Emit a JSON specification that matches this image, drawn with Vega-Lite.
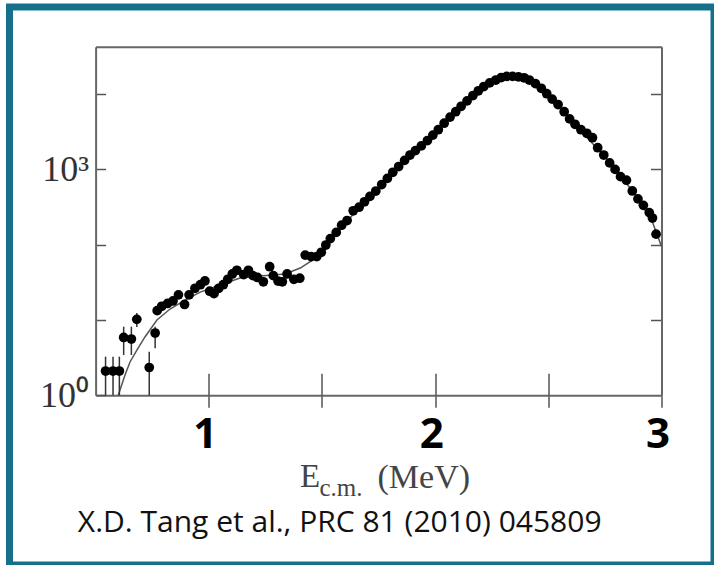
{
  "$schema": "https://vega.github.io/schema/vega-lite/v6.json",
  "width": 704.5,
  "height": 558,
  "autosize": {"type": "none"},
  "padding": {"left": 9.5, "top": 7, "right": 0, "bottom": 0},
  "background": "white",
  "config": {
    "view": {"stroke": "#15708c", "strokeWidth": 7, "fill": "white"},
    "axis": {"grid": false}
  },
  "datasets": {
    "points": [
      {"E": 0.544, "Y": 2.10}, {"E": 0.577, "Y": 2.10}, {"E": 0.605, "Y": 2.10},
      {"E": 0.624, "Y": 5.86}, {"E": 0.658, "Y": 5.59}, {"E": 0.682, "Y": 10.2},
      {"E": 0.737, "Y": 2.34}, {"E": 0.763, "Y": 6.72}, {"E": 0.772, "Y": 13.3},
      {"E": 0.792, "Y": 15.2}, {"E": 0.818, "Y": 16.6}, {"E": 0.842, "Y": 17.9},
      {"E": 0.866, "Y": 21.6}, {"E": 0.893, "Y": 16.1}, {"E": 0.913, "Y": 21.6},
      {"E": 0.939, "Y": 26.4}, {"E": 0.963, "Y": 29.4}, {"E": 0.983, "Y": 33.0},
      {"E": 1.004, "Y": 24.1}, {"E": 1.023, "Y": 22.4}, {"E": 1.044, "Y": 26.4},
      {"E": 1.064, "Y": 29.4}, {"E": 1.084, "Y": 34.7}, {"E": 1.104, "Y": 40.9},
      {"E": 1.124, "Y": 45.7}, {"E": 1.154, "Y": 40.1}, {"E": 1.175, "Y": 45.7},
      {"E": 1.195, "Y": 38.8}, {"E": 1.215, "Y": 36.7}, {"E": 1.241, "Y": 32.2},
      {"E": 1.269, "Y": 51.0}, {"E": 1.285, "Y": 38.8}, {"E": 1.306, "Y": 32.9},
      {"E": 1.325, "Y": 32.2}, {"E": 1.346, "Y": 40.9}, {"E": 1.376, "Y": 34.7},
      {"E": 1.402, "Y": 35.9}, {"E": 1.426, "Y": 72.8}, {"E": 1.452, "Y": 69.5},
      {"E": 1.477, "Y": 69.5}, {"E": 1.497, "Y": 79.3}, {"E": 1.517, "Y": 99.1},
      {"E": 1.537, "Y": 120.5}, {"E": 1.563, "Y": 145.7}, {"E": 1.587, "Y": 181.6},
      {"E": 1.611, "Y": 209.6}, {"E": 1.638, "Y": 281.9}, {"E": 1.664, "Y": 314.8},
      {"E": 1.688, "Y": 371.3}, {"E": 1.712, "Y": 437.8}, {"E": 1.738, "Y": 516.6},
      {"E": 1.764, "Y": 630.3}, {"E": 1.789, "Y": 759.5}, {"E": 1.813, "Y": 915.2},
      {"E": 1.839, "Y": 1093}, {"E": 1.865, "Y": 1317}, {"E": 1.889, "Y": 1553},
      {"E": 1.913, "Y": 1777}, {"E": 1.939, "Y": 2052}, {"E": 1.966, "Y": 2420},
      {"E": 1.990, "Y": 2854}, {"E": 2.014, "Y": 3368}, {"E": 2.040, "Y": 4107},
      {"E": 2.066, "Y": 4950}, {"E": 2.091, "Y": 5838}, {"E": 2.115, "Y": 6887},
      {"E": 2.141, "Y": 8123}, {"E": 2.167, "Y": 9581}, {"E": 2.191, "Y": 11060},
      {"E": 2.215, "Y": 12610}, {"E": 2.241, "Y": 14080}, {"E": 2.268, "Y": 15390},
      {"E": 2.292, "Y": 16620}, {"E": 2.316, "Y": 17190}, {"E": 2.342, "Y": 17190},
      {"E": 2.368, "Y": 16970}, {"E": 2.393, "Y": 16460}, {"E": 2.416, "Y": 15390},
      {"E": 2.443, "Y": 13780}, {"E": 2.469, "Y": 11940}, {"E": 2.493, "Y": 10120},
      {"E": 2.517, "Y": 8583}, {"E": 2.543, "Y": 7277}, {"E": 2.570, "Y": 5838},
      {"E": 2.594, "Y": 4685}, {"E": 2.618, "Y": 3972}, {"E": 2.644, "Y": 3368},
      {"E": 2.670, "Y": 3016}, {"E": 2.695, "Y": 2636}, {"E": 2.718, "Y": 1942},
      {"E": 2.745, "Y": 1553}, {"E": 2.771, "Y": 1220}, {"E": 2.795, "Y": 1000},
      {"E": 2.819, "Y": 802}, {"E": 2.845, "Y": 719}, {"E": 2.871, "Y": 517},
      {"E": 2.896, "Y": 406}, {"E": 2.920, "Y": 333}, {"E": 2.946, "Y": 267},
      {"E": 2.960, "Y": 226}, {"E": 2.976, "Y": 138}
    ],
    "errors": [
      {"E": 0.544, "lo": 1, "hi": 3.26}, {"E": 0.577, "lo": 1, "hi": 3.26},
      {"E": 0.605, "lo": 1, "hi": 3.26}, {"E": 0.624, "lo": 3.43, "hi": 8.15},
      {"E": 0.658, "lo": 3.43, "hi": 8.15}, {"E": 0.682, "lo": 8.1, "hi": 12.4},
      {"E": 0.737, "lo": 1, "hi": 3.79}, {"E": 0.763, "lo": 4.21, "hi": 8.15}
    ],
    "curve": [
      {"E": 0.600, "Y": 1.0}, {"E": 0.630, "Y": 1.86}, {"E": 0.652, "Y": 2.77},
      {"E": 0.683, "Y": 4.0}, {"E": 0.718, "Y": 5.95}, {"E": 0.771, "Y": 10.0},
      {"E": 0.829, "Y": 14.0}, {"E": 0.895, "Y": 18.4}, {"E": 0.962, "Y": 23.5},
      {"E": 1.050, "Y": 29.2}, {"E": 1.138, "Y": 36.1}, {"E": 1.227, "Y": 38.4},
      {"E": 1.337, "Y": 40.8}, {"E": 1.404, "Y": 49.0}, {"E": 1.470, "Y": 65.6},
      {"E": 1.536, "Y": 110}, {"E": 1.669, "Y": 327}, {"E": 1.846, "Y": 1148},
      {"E": 2.023, "Y": 3548}, {"E": 2.199, "Y": 11330}, {"E": 2.288, "Y": 16370},
      {"E": 2.341, "Y": 17190}, {"E": 2.398, "Y": 16370}, {"E": 2.487, "Y": 10500},
      {"E": 2.619, "Y": 3900}, {"E": 2.752, "Y": 1450}, {"E": 2.885, "Y": 460},
      {"E": 2.960, "Y": 200}, {"E": 3.0, "Y": 95}
    ]
  },
  "layer": [
    {
      "data": {"name": "curve"},
      "mark": {"type": "line", "color": "#555555", "strokeWidth": 1.5},
      "encoding": {
        "x": {
          "field": "E", "type": "quantitative",
          "scale": {"domain": [0.5, 3.0], "range": [86.1, 652], "nice": false, "zero": false},
          "axis": {
            "orient": "bottom", "offset": -169.7,
            "values": [1, 1.5, 2, 2.5, 3],
            "tickSize": 12, "tickColor": "#555555", "tickWidth": 1.5,
            "domainColor": "#666666", "domainWidth": 2,
            "labelExpr": "datum.value == 1 ? '1' : datum.value == 2 ? '2' : datum.value == 3 ? '3' : ''",
            "labelFont": "Open Sans", "labelFontWeight": "bold", "labelFontSize": 42,
            "labelColor": "#000000", "labelBaseline": "alphabetic", "labelPadding": 40,
            "labelOffset": -4, "labelFlush": false, "labelOverlap": false, "labelBound": false,
            "title": "E", "titleFont": "Liberation Serif", "titleFontWeight": "normal",
            "titleFontSize": 33, "titleColor": "#444444", "titleX": 290, "titleY": 91.5,
            "titleAlign": "left", "titleBaseline": "alphabetic"
          }
        },
        "y": {
          "field": "Y", "type": "quantitative",
          "scale": {"type": "log", "domain": [1, 42500], "range": [388.3, 39.8], "nice": false},
          "axis": {
            "orient": "left", "offset": -86.1,
            "values": [1, 10, 100, 1000, 10000],
            "tickSize": -10, "tickColor": "#555555", "tickWidth": 1.5,
            "domainColor": "#666666", "domainWidth": 2,
            "labelExpr": "datum.value == 1 ? '10⁰' : datum.value == 1000 ? '10³' : ''",
            "labelFont": "Liberation Serif", "labelFontSize": 36, "labelColor": "#333333",
            "labelPadding": 17, "labelBaseline": "middle", "labelOverlap": false,
            "labelBound": false, "labelFlush": false,
            "title": null
          }
        }
      }
    },
    {
      "data": {"name": "errors"},
      "mark": {"type": "rule", "color": "#333333", "strokeWidth": 1.5},
      "encoding": {
        "x": {
          "field": "E", "type": "quantitative",
          "scale": {"domain": [0.5, 3.0], "range": [86.1, 652], "nice": false, "zero": false},
          "axis": {
            "orient": "bottom", "offset": -169.7,
            "values": [1, 1.5, 2, 2.5],
            "tickSize": -22, "tickColor": "#555555", "tickWidth": 1.5,
            "domain": false, "labels": false,
            "title": "c.m.", "titleFont": "Liberation Serif", "titleFontWeight": "normal",
            "titleFontSize": 25, "titleColor": "#444444", "titleX": 309.5, "titleY": 100,
            "titleAlign": "left", "titleBaseline": "alphabetic"
          }
        },
        "y": {
          "field": "lo", "type": "quantitative",
          "scale": {"type": "log", "domain": [1, 42500], "range": [388.3, 39.8], "nice": false},
          "axis": {
            "orient": "right", "offset": -52.5,
            "values": [10, 100, 1000, 10000],
            "tickSize": -11, "tickColor": "#555555", "tickWidth": 1.5,
            "domainColor": "#666666", "domainWidth": 2, "labels": false,
            "title": "X.D. Tang et al., PRC 81 (2010) 045809",
            "titleFont": "Open Sans", "titleFontSize": 30, "titleFontWeight": "normal",
            "titleColor": "#111111", "titleAngle": 0, "titleX": -322.3, "titleY": 524,
            "titleAlign": "center", "titleBaseline": "alphabetic"
          }
        },
        "y2": {"field": "hi"}
      }
    },
    {
      "data": {"name": "points"},
      "mark": {"type": "point", "filled": true, "color": "#000000", "size": 95, "opacity": 1},
      "encoding": {
        "x": {
          "field": "E", "type": "quantitative",
          "scale": {"domain": [0.5, 3.0], "range": [86.1, 652], "nice": false, "zero": false},
          "axis": {
            "orient": "top", "offset": -39.8,
            "ticks": false, "labels": false,
            "domainColor": "#666666", "domainWidth": 2,
            "title": "(MeV)", "titleFont": "Liberation Serif", "titleFontWeight": "normal",
            "titleFontSize": 34, "titleColor": "#444444", "titleX": 367.5, "titleY": 440.2,
            "titleAlign": "left", "titleBaseline": "alphabetic"
          }
        },
        "y": {
          "field": "Y", "type": "quantitative",
          "scale": {"type": "log", "domain": [1, 42500], "range": [388.3, 39.8], "nice": false},
          "axis": null
        }
      }
    }
  ],
  "resolve": {"axis": {"x": "independent", "y": "independent"}}
}
